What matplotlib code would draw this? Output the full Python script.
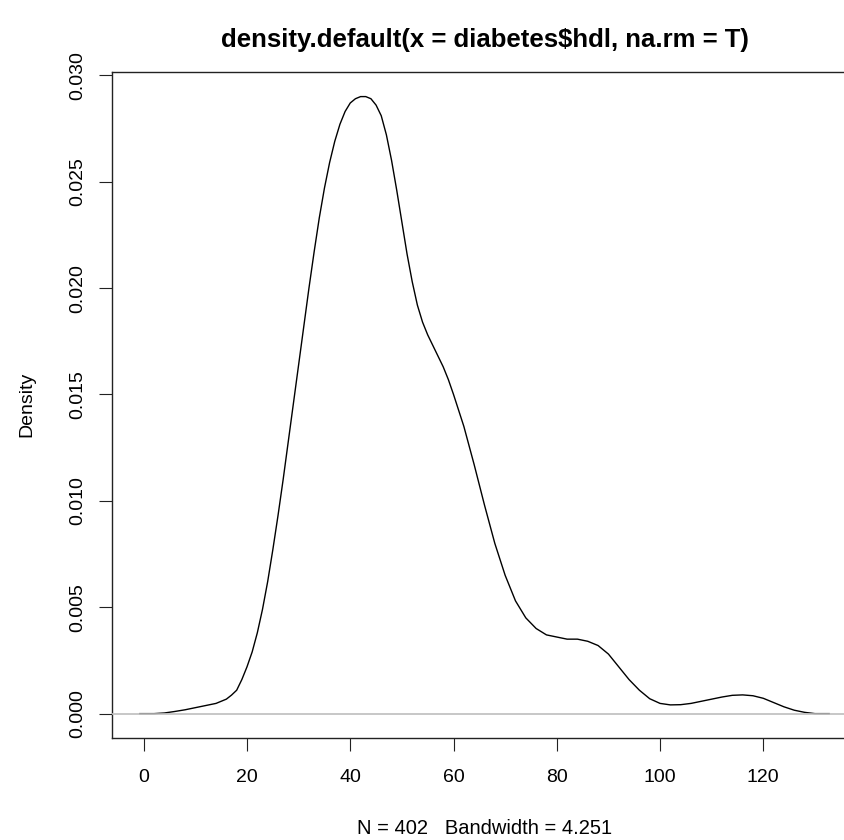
import matplotlib.pyplot as plt
import numpy as np

plt.rcParams['font.family'] = ['Liberation Sans', 'DejaVu Sans']

# density curve of diabetes$hdl
hdl_x = [-0.75, 2, 4, 6, 8, 10, 12, 14, 16, 17, 18, 19, 20, 21, 22, 23, 24,
         25, 26, 27, 28, 29, 30, 31, 32, 33, 34, 35, 36, 37, 38, 39, 40, 41,
         42, 43, 44, 45, 46, 47, 48, 49, 50, 51, 52, 53, 54, 55, 56, 57, 58,
         59, 60, 62, 64, 66, 68, 70, 72, 74, 76, 78, 80, 82, 84, 86, 88, 90,
         92, 94, 96, 98, 100, 102, 104, 106, 108, 110, 112, 114, 116, 118,
         120, 122, 124, 126, 128, 130, 132.75]
hdl_dens = [0.0, 0.0, 0.00003, 0.0001, 0.00018, 0.00028, 0.00038, 0.00048,
            0.00068, 0.00087, 0.0011, 0.0016, 0.0022, 0.0029, 0.0038, 0.0049,
            0.0062, 0.0077, 0.0093, 0.0110, 0.0128, 0.0146, 0.0164, 0.0182,
            0.0200, 0.0217, 0.0233, 0.0247, 0.0259, 0.0269, 0.0277, 0.0283,
            0.0287, 0.0289, 0.0290, 0.0290, 0.0289, 0.0286, 0.0281, 0.0272,
            0.0260, 0.0246, 0.0231, 0.0216, 0.0203, 0.0192, 0.0184, 0.0178,
            0.0173, 0.0168, 0.0163, 0.0157, 0.0150, 0.0135, 0.0117, 0.0098,
            0.0080, 0.0065, 0.0053, 0.0045, 0.0040, 0.0037, 0.0036, 0.0035,
            0.0035, 0.0034, 0.0032, 0.0028, 0.0022, 0.0016, 0.0011, 0.0007,
            0.00048, 0.00041, 0.00042, 0.00048, 0.00058, 0.00068, 0.00078,
            0.00086, 0.00088, 0.00084, 0.00072, 0.00052, 0.00032, 0.00016,
            0.00006, 0.0, 0.0]

xticks = [0, 20, 40, 60, 80, 100, 120]
yticks = [0.000, 0.005, 0.010, 0.015, 0.020, 0.025, 0.030]

W, H = 845, 840
fig = plt.figure(figsize=(W / 100, H / 100), dpi=100)

# plot region in pixels (right edge runs off the canvas, as in the reference)
left, top, bottom, right = 112.3, 71.7, 738.3, 856.7
ax = fig.add_axes([left / W, 1 - bottom / H, (right - left) / W, (bottom - top) / H])

ax.plot(hdl_x, hdl_dens, color='black', lw=1.0, zorder=2)
# R draws the zero line after the curve, so it sits on top
ax.axhline(0, color='#bebebe', lw=1.2, zorder=3)

ax.set_xlim(-6.09, 138.09)
ax.set_ylim(-0.00116, 0.03017)
ax.set_xticks(xticks)
ax.set_yticks(yticks)
ax.set_xticklabels([str(t) for t in xticks])
ax.set_yticklabels([f"{t:.3f}" for t in yticks], rotation=90, va='center')
ax.tick_params(axis='both', direction='out', length=9.4, width=0.8,
               labelsize=14, color='#222222')
ax.tick_params(axis='x', pad=13)
ax.tick_params(axis='y', pad=9)
for s in ax.spines.values():
    s.set_linewidth(1.0)
    s.set_color('#222222')

cx = (left + right) / 2 / W
fig.text(cx, 1 - 40 / H, "density.default(x = diabetes$hdl, na.rm = T)",
         ha='center', va='center', fontsize=18.5, fontweight='bold',
         parse_math=False)
fig.text(cx, 1 - 828 / H, "N = 402   Bandwidth = 4.251",
         ha='center', va='center', fontsize=14.5)
fig.text(27 / W, 1 - 404 / H, "Density", rotation=90,
         ha='center', va='center', fontsize=14)

fig.savefig("out.png", dpi=100)
